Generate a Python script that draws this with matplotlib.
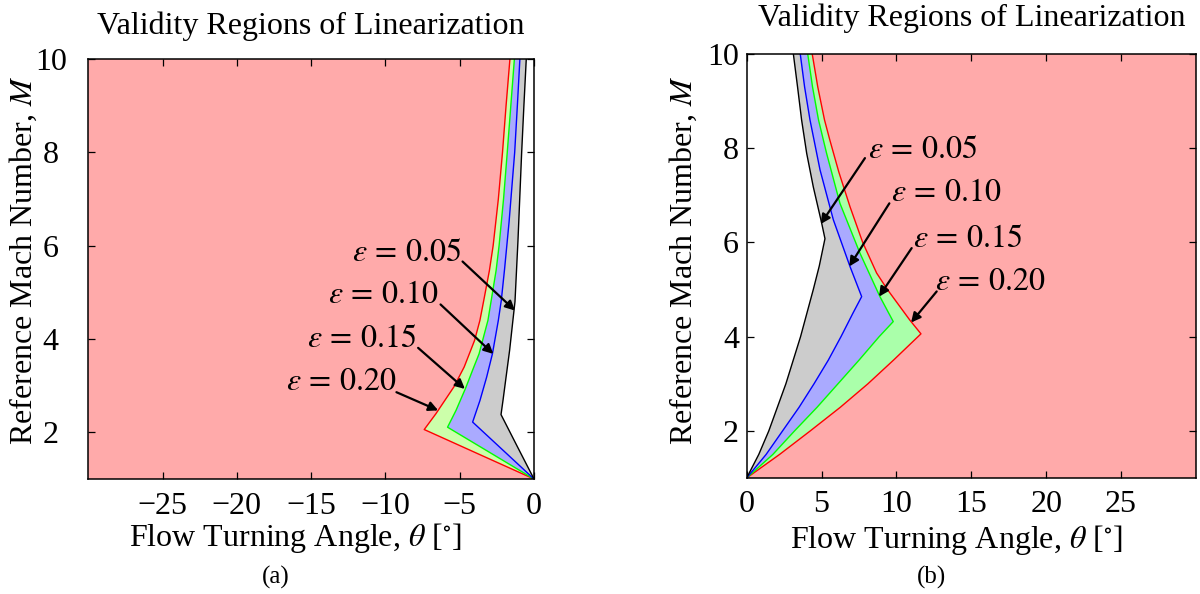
import matplotlib
matplotlib.use("Agg")
import matplotlib.pyplot as plt

plt.rcParams['font.family'] = ['Liberation Serif', 'DejaVu Serif']
plt.rcParams['mathtext.fontset'] = 'stix'
plt.rcParams['axes.unicode_minus'] = True

# ---------------- data ----------------
eps_labels = ["0.05", "0.10", "0.15", "0.20"]

# Panel (a): expansion side (negative turning angle); path from (0,1) -> corner -> top
mach_a_005 = [1.0, 1.7, 2.38, 2.7, 3.04, 3.76, 4.4, 4.8, 6.1, 8.0, 9.0, 10.0]
theta_a_005 = [0.0, -1.13, -2.22, -2.08, -1.94, -1.64, -1.42, -1.28, -1.08, -0.83, -0.68, -0.52]
mach_a_010 = [1.0, 1.6, 2.22, 2.68, 3.18, 3.68, 4.4, 4.83, 5.5, 6.5, 8.0, 9.0, 10.0]
theta_a_010 = [0.0, -2.03, -4.13, -3.64, -3.19, -2.8, -2.4, -2.2, -1.98, -1.68, -1.3, -1.12, -0.95]
mach_a_015 = [1.0, 1.5, 2.11, 2.47, 2.95, 3.4, 3.68, 4.4, 5.47, 6.0, 7.0, 8.0, 9.0, 10.0]
theta_a_015 = [0.0, -2.62, -5.82, -5.25, -4.6, -4.05, -3.7, -3.1, -2.55, -2.35, -2.05, -1.8, -1.56, -1.32]
mach_a_020 = [1.0, 1.5, 2.06, 2.4, 2.97, 3.4, 3.97, 4.4, 4.83, 5.47, 6.0, 7.0, 8.0, 9.0, 10.0]
theta_a_020 = [0.0, -3.49, -7.39, -6.6, -5.4, -4.7, -4.0, -3.64, -3.38, -3.0, -2.75, -2.4, -2.12, -1.88, -1.62]

# Panel (b): compression side (positive turning angle)
mach_b_005 = [1.0, 1.5, 2.0, 3.0, 4.0, 5.0, 5.5, 6.08, 6.41, 7.18, 7.89, 8.6, 9.3, 10.0]
theta_b_005 = [0.0, 0.81, 1.48, 2.62, 3.6, 4.45, 4.85, 5.23, 5.01, 4.45, 4.01, 3.67, 3.4, 3.12]
mach_b_010 = [1.0, 1.5, 2.0, 2.5, 3.0, 3.5, 4.0, 4.5, 4.85, 5.49, 6.48, 7.54, 8.6, 9.3, 10.0]
theta_b_010 = [0.0, 1.3, 2.4, 3.5, 4.5, 5.45, 6.3, 7.1, 7.68, 6.9, 5.79, 4.9, 4.23, 3.87, 3.58]
mach_b_015 = [1.0, 1.5, 2.0, 2.5, 3.0, 3.5, 4.0, 4.32, 4.85, 5.77, 6.83, 7.89, 8.6, 9.3, 10.0]
theta_b_015 = [0.0, 1.75, 3.2, 4.7, 6.1, 7.5, 8.85, 9.79, 8.9, 7.57, 6.23, 5.34, 4.8, 4.4, 4.08]
mach_b_020 = [1.0, 1.5, 2.0, 2.5, 3.0, 3.5, 4.06, 4.35, 5.0, 5.35, 6.0, 6.76, 7.5, 8.18, 8.6, 9.3, 10.0]
theta_b_020 = [0.0, 2.2, 4.25, 6.25, 8.1, 9.8, 11.64, 10.9, 9.4, 8.68, 7.75, 6.9, 6.15, 5.55, 5.2, 4.75, 4.38]

xticks_a = [-25, -20, -15, -10, -5, 0]
xticks_b = [0, 5, 10, 15, 20, 25]
yticks = [2, 4, 6, 8, 10]

# annotation layout (text anchor, arrow start, arrow tip) in data coords
ann_a = [((-4.88, 5.68), (-4.81, 5.66), (-1.28, 4.61)),
         ((-6.45, 4.77), (-6.29, 4.74), (-2.74, 3.68)),
         ((-7.91, 3.83), (-7.80, 3.81), (-4.65, 2.93)),
         ((-9.30, 2.90), (-9.26, 2.86), (-6.45, 2.47))]
ann_b = [((8.12, 7.79), (7.90, 7.79), (4.94, 6.39)),
         ((9.62, 6.87), (9.53, 6.83), (6.85, 5.49)),
         ((11.13, 5.91), (11.02, 5.88), (8.84, 4.85)),
         ((12.58, 4.99), (12.69, 4.96), (10.98, 4.30))]

PINK = '#FFAAAA'
GRAY = '#CCCCCC'
BLUEF = '#AAAAFF'
line_colors = ['black', '#0000FF', '#00FF00', '#FF0000']

fig = plt.figure(figsize=(12, 5.94), dpi=100)
ax_a = fig.add_axes([0.0736, 0.1936, 0.3714, 0.7071])
ax_b = fig.add_axes([0.6222, 0.1953, 0.3744, 0.7138])

FS = 23


def draw_panel(ax, curves, greenfill, xlim, xticks, anns, side):
    ax.set_facecolor(PINK)
    fills = [greenfill, BLUEF, GRAY, 'white']
    order = [3, 2, 1, 0]  # red, green, blue, black
    for fc, idx in zip(fills, order):
        th, m = curves[idx]
        px = list(th) + [0.0]
        py = list(m) + [10.0]
        ax.fill(px, py, facecolor=fc, edgecolor='none', zorder=1)
    for idx in order:
        th, m = curves[idx]
        ax.plot(th, m, color=line_colors[idx], lw=1.0, zorder=3)
    ax.set_xlim(*xlim)
    ax.set_ylim(1, 10)
    ax.set_xticks(xticks)
    ax.set_yticks(yticks)
    ax.tick_params(direction='in', top=True, right=True, length=5, width=0.9,
                   labelsize=FS)
    ax.tick_params(axis='x', pad=9)
    for sp in ax.spines.values():
        sp.set_linewidth(1.1)
        sp.set_zorder(5)
    ax.set_title('Validity Regions of Linearization', fontsize=FS, pad=18 if side == 'a' else 20)
    ax.set_xlabel(r'Flow Turning Angle, $\theta$ [$^{\circ}$]', fontsize=FS)
    ax.set_ylabel(r'Reference Mach Number, $M$', fontsize=FS)
    for lab, (txt, start, tip) in zip(eps_labels, anns):
        ax.text(txt[0], txt[1], r'$\varepsilon\,=\,%s$' % lab, fontsize=FS,
                ha='right' if side == 'a' else 'left', va='baseline', zorder=6)
        ax.annotate('', xy=tip, xytext=start,
                    arrowprops=dict(arrowstyle='-|>', color='black', lw=1.6,
                                    mutation_scale=14, shrinkA=0, shrinkB=0),
                    zorder=6)


curves_a = [(theta_a_005, mach_a_005), (theta_a_010, mach_a_010),
            (theta_a_015, mach_a_015), (theta_a_020, mach_a_020)]
curves_b = [(theta_b_005, mach_b_005), (theta_b_010, mach_b_010),
            (theta_b_015, mach_b_015), (theta_b_020, mach_b_020)]

draw_panel(ax_a, curves_a, '#CCFFAA', (-30, 0), xticks_a, ann_a, 'a')
draw_panel(ax_b, curves_b, '#AAFFAA', (0, 30), xticks_b, ann_b, 'b')

ax_a.tick_params(axis='y', pad=27)
for lab in ax_a.get_yticklabels():
    lab.set_horizontalalignment('center')
ax_b.tick_params(axis='y', pad=5.5)

ax_a.xaxis.set_label_coords(0.466, -0.100)
ax_b.xaxis.set_label_coords(0.467, -0.106)
ax_a.yaxis.set_label_coords(-0.111, 0.521)
ax_b.yaxis.set_label_coords(-0.107, 0.514)

fig.text(276 / 1200, 1 - 577.5 / 594, '(a)', fontsize=18, ha='center', va='center')
fig.text(932 / 1200, 1 - 577.5 / 594, '(b)', fontsize=18, ha='center', va='center')

fig.savefig('out.png', dpi=100)
